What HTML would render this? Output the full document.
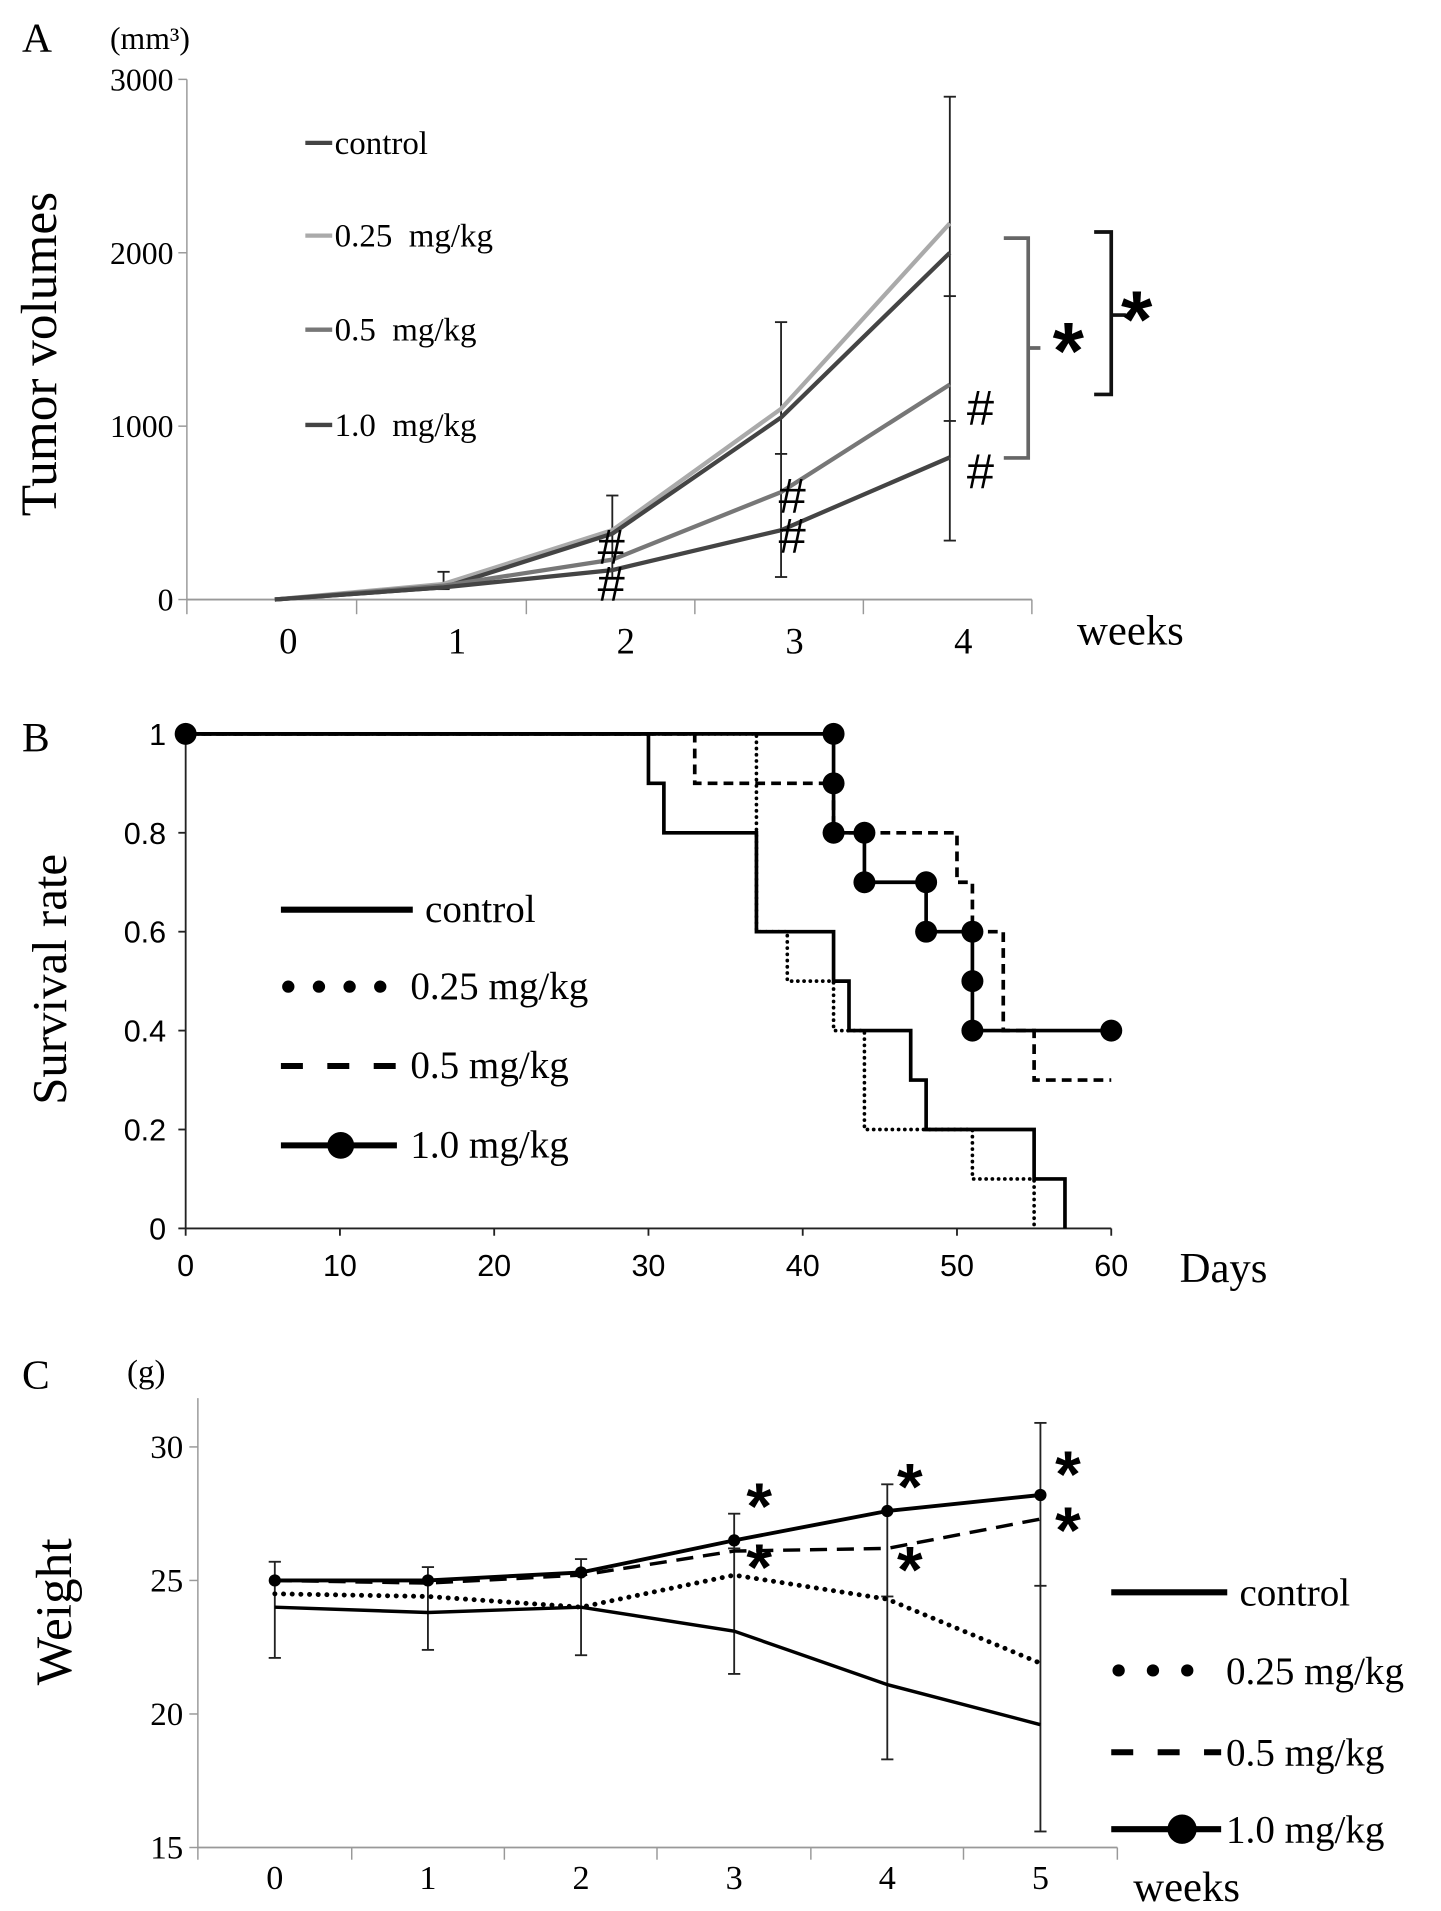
<!DOCTYPE html>
<html><head><meta charset="utf-8"><style>
html,body{margin:0;padding:0;background:#fff}
svg{display:block;font-family:"Liberation Serif",serif}
</style></head><body>
<svg id="fig" width="1441" height="1911" viewBox="0 0 1180 1565" xmlns="http://www.w3.org/2000/svg">
<g id="pa"></g>
<g id="pb"></g>
<g id="pc"></g>
</svg>
<script>
const NS="http://www.w3.org/2000/svg";
// Panel A data
const aWeeks=[0,1,2,3,4];
const aControl=[0,70,380,1050,2000];
const aLow=[0,90,400,1100,2170];
const aMid=[0,80,230,620,1240];
const aHigh=[0,70,170,400,820];
const aErrTop=[0,160,600,1600,2900];
const aErrBot=[0,60,120,130,340];
const aYTicks=[0,1000,2000,3000];
// Panel B data (step curves: [day, rate])
const bTicks=[0,10,20,30,40,50,60];
const bYTicks=[0,0.2,0.4,0.6,0.8,1];
const bControlDays=[0,30,31,37,42,43,47,48,55,57];
const bControlRates=[1,0.9,0.8,0.6,0.5,0.4,0.3,0.2,0.1,0];
const bLowDays=[0,37,39,42,44,51,55];
const bLowRates=[1,0.6,0.5,0.4,0.2,0.1,0];
const bMidDays=[0,33,42,50,51,53,55,60];
const bMidRates=[1,0.9,0.8,0.7,0.6,0.4,0.3,0.3];
const bHighDays=[0,42,44,48,51,60];
const bHighRates=[1,0.8,0.7,0.6,0.4,0.4];
const bDotDays=[0,42,42,42,44,44,48,48,51,51,51,60];
const bDotRates=[1,1,0.9,0.8,0.8,0.7,0.7,0.6,0.6,0.5,0.4,0.4];
// Panel C data
const cWeeks=[0,1,2,3,4,5];
const cControl=[24,23.8,24,23.1,21.1,19.6];
const cLow=[24.5,24.4,24,25.2,24.3,21.9];
const cMid=[25,24.9,25.2,26.1,26.2,27.3];
const cHigh=[25,25,25.3,26.5,27.6,28.2];
const cErrTop=[25.7,25.5,25.8,27.5,28.6,30.9];
const cErrBot=[22.1,22.4,22.2,21.5,18.3,15.6];
const cYTicks=[15,20,25,30];

function el(p,tag,attrs,text){const e=document.createElementNS(NS,tag);for(const k in attrs)e.setAttribute(k,attrs[k]);if(text!==undefined)e.textContent=text;p.appendChild(e);return e;}
function line(p,x1,y1,x2,y2,st,w,dash){return el(p,'line',{x1,y1,x2,y2,stroke:st,'stroke-width':w,'stroke-dasharray':dash||'none'});}

// ---------- Panel A ----------
const A=document.getElementById('pa');
const ax=i=>225+138.2*i, ay=v=>491-v*0.142;
let t=el(A,'text',{x:18,y:42,'font-size':34},'A');

t=el(A,'text',{x:90,y:40,'font-size':26},'(mm³)');

t=el(A,'text',{x:0,y:0,'font-size':42,transform:'translate(46,290) rotate(-90)','text-anchor':'middle'},'Tumor volumes');

line(A,153,65,153,491,'#999',1.2);line(A,153,491,845,491,'#999',1.5);
[153,292,431,569,707,845].forEach(x=>line(A,x,491,x,503,'#999',1.2));
aYTicks.forEach(v=>{line(A,146,ay(v),153,ay(v),'#999',1.2);
 const e=el(A,'text',{x:142,y:ay(v)+9,'font-size':26,'text-anchor':'end'},String(v));
 });
aWeeks.forEach((w,i)=>{const e=el(A,'text',{x:ax(i)+11,y:535,'font-size':30,'text-anchor':'middle'},String(w));
 });
t=el(A,'text',{x:882,y:528,'font-size':35},'weeks');

aWeeks.forEach((w,i)=>{if(i===0)return;const x=ax(i);
 line(A,x,ay(aErrTop[i]),x,ay(aErrBot[i]),'#222',1.5);
 line(A,x-5,ay(aErrTop[i]),x+5,ay(aErrTop[i]),'#222',1.5);
 line(A,x-5,ay(aErrBot[i]),x+5,ay(aErrBot[i]),'#222',1.5);});
line(A,ax(3)-5,ay(840),ax(3)+5,ay(840),'#222',1.5);line(A,ax(4)-5,ay(1750),ax(4)+5,ay(1750),'#222',1.5);line(A,ax(4)-5,ay(1030),ax(4)+5,ay(1030),'#222',1.5);
const aSeries=[[aLow,'#aaa','series-0-25'],[aControl,'#444','series-control'],[aMid,'#777','series-0-5'],[aHigh,'#444','series-1-0']];
aSeries.forEach(([d,c,n])=>{const pts=d.map((v,i)=>ax(i)+','+ay(v)).join(' ');
 const e=el(A,'polyline',{points:pts,fill:'none',stroke:c,'stroke-width':3.5});
 });
const aLeg=[['control','#444',117],['0.25  mg/kg','#aaa',193],['0.5  mg/kg','#777',270],['1.0  mg/kg','#444',348]];
aLeg.forEach(([l,c,y])=>{const g=el(A,'g',{});
 line(g,250,y,272,y,c,3.5);el(g,'text',{x:274,y:y+9,'font-size':27},l.replace(/  /,'\u00a0\u00a0'));});
[[ax(2)-12,462],[ax(2)-12,492],[ax(3)-2,420],[ax(3)-2,453],[ax(4)+14,348],[ax(4)+14,400]].forEach(([x,y])=>{
 const e=el(A,'text',{x,y,'font-size':40,'font-family':'Liberation Sans,sans-serif'},'#');
 });
el(A,'path',{d:'M822,195 H842 V285 H852 M842,285 V375 H822',fill:'none',stroke:'#666','stroke-width':3});
el(A,'path',{d:'M896,190 H910 V258 H922 M910,258 V323 H896',fill:'none',stroke:'#111','stroke-width':3});
t=el(A,'text',{x:862,y:310,'font-size':66,'font-family':'Liberation Sans,sans-serif','font-weight':'bold'},'*');
t=el(A,'text',{x:918,y:284,'font-size':66,'font-family':'Liberation Sans,sans-serif','font-weight':'bold'},'*');

// ---------- Panel B ----------
const B=document.getElementById('pb');
const bx=d=>152+d*(758/60), by=r=>1006-r*405;
t=el(B,'text',{x:18,y:615,'font-size':34},'B');
t=el(B,'text',{x:0,y:0,'font-size':40,transform:'translate(54,802) rotate(-90)','text-anchor':'middle'},'Survival  rate');

line(B,152,601,152,1006,'#222',1.5);line(B,152,1006,910,1006,'#222',1.5);
bYTicks.forEach(v=>{line(B,146,by(v),152,by(v),'#222',1.5);
 const e=el(B,'text',{x:136,y:by(v)+9,'font-size':25,'text-anchor':'end','font-family':'Liberation Sans,sans-serif'},String(v));
 });
bTicks.forEach(d=>{line(B,bx(d),1006,bx(d),1012,'#222',1.5);
 const e=el(B,'text',{x:bx(d),y:1045,'font-size':25,'text-anchor':'middle','font-family':'Liberation Sans,sans-serif'},String(d));
 });
t=el(B,'text',{x:966,y:1050,'font-size':35},'Days');
function steps(days,rates,end){let d='M'+bx(days[0])+','+by(rates[0]);for(let i=1;i<days.length;i++){d+=' H'+bx(days[i])+' V'+by(rates[i]);}if(end!==undefined)d+=' H'+bx(end);return d;}
const bS=[[bControlDays,bControlRates,undefined,'none','series-control'],[bLowDays,bLowRates,undefined,'0.1,5','series-0-25'],[bMidDays,bMidRates,undefined,'8,5','series-0-5'],[bHighDays,bHighRates,undefined,'none','series-1-0']];
bS.forEach(([dd,rr,end,dash,n])=>{const e=el(B,'path',{d:steps(dd,rr,end),fill:'none',stroke:'#000','stroke-width':3,'stroke-dasharray':dash,'stroke-linecap':dash==='0.1,5'?'round':'butt'});
 });
bDotDays.forEach((d,i)=>{const e=el(B,'circle',{cx:bx(d),cy:by(bDotRates[i]),r:9,fill:'#000'});
 });
const bLeg=[['control','none',745],['0.25 mg/kg','0.1,25',808],['0.5 mg/kg','18,20',873],['1.0 mg/kg','none',938]];
bLeg.forEach(([l,dash,y],i)=>{const g=el(B,'g',{});
 el(g,'line',{x1:i===1?236:230,y1:y,x2:i===0?338:325,y2:y,stroke:'#000','stroke-width':i===1?10:5,'stroke-dasharray':dash,'stroke-linecap':i===1?'round':'butt'});
 if(i===3)el(g,'circle',{cx:279,cy:y,r:11,fill:'#000'});
 el(g,'text',{x:i===0?348:336,y:y+10,'font-size':32},l);});

// ---------- Panel C ----------
const C=document.getElementById('pc');
const cx=i=>225+125.4*i, cy=v=>1513-(v-15)*21.87;
t=el(C,'text',{x:18,y:1137,'font-size':34},'C');
t=el(C,'text',{x:104,y:1132,'font-size':27},'(g)');
t=el(C,'text',{x:0,y:0,'font-size':42,transform:'translate(58,1320) rotate(-90)','text-anchor':'middle'},'Weight');

line(C,162,1145,162,1513,'#999',1.2);line(C,162,1513,915,1513,'#999',1.5);
[162,288,413,538,664,789,915].forEach(x=>line(C,x,1513,x,1523,'#999',1.2));
cYTicks.forEach(v=>{line(C,155,cy(v),162,cy(v),'#999',1.2);
 const e=el(C,'text',{x:150,y:cy(v)+9,'font-size':27,'text-anchor':'end'},String(v));
 });
cWeeks.forEach((w,i)=>{const e=el(C,'text',{x:cx(i),y:1547,'font-size':28,'text-anchor':'middle'},String(w));
 });
t=el(C,'text',{x:928,y:1557,'font-size':35},'weeks');
cWeeks.forEach((w,i)=>{const x=cx(i);
 line(C,x,cy(cErrTop[i]),x,cy(cErrBot[i]),'#222',1.5);
 line(C,x-5,cy(cErrTop[i]),x+5,cy(cErrTop[i]),'#222',1.5);
 line(C,x-5,cy(cErrBot[i]),x+5,cy(cErrBot[i]),'#222',1.5);});
line(C,cx(5)-5,cy(24.8),cx(5)+5,cy(24.8),'#222',1.5);line(C,cx(4)-5,cy(24.4),cx(4)+5,cy(24.4),'#222',1.5);line(C,cx(3)-5,cy(26.2),cx(3)+5,cy(26.2),'#222',1.5);
const cS=[[cControl,'none',2.8,'series-control'],[cLow,'0.1,7',4,'series-0-25'],[cMid,'14,8',2.8,'series-0-5'],[cHigh,'none',3.2,'series-1-0']];
cS.forEach(([d,dash,w,n])=>{const pts=d.map((v,i)=>cx(i)+','+cy(v)).join(' ');
 const e=el(C,'polyline',{points:pts,fill:'none',stroke:'#000','stroke-width':w,'stroke-dasharray':dash,'stroke-linecap':dash==='0.1,7'?'round':'butt'});
 });
cHigh.forEach((v,i)=>{const e=el(C,'circle',{cx:cx(i),cy:cy(v),r:5,fill:'#000'});});
[[cx(3)+10,1252],[cx(3)+10,1302],[cx(4)+8,1236],[cx(4)+8,1304],[cx(5)+12,1226],[cx(5)+12,1272]].forEach(([x,y])=>{
 const e=el(C,'text',{x,y,'font-size':54,'font-family':'Liberation Sans,sans-serif','font-weight':'bold'},'*');
 });
const cLeg=[['control','none',1304],['0.25 mg/kg','0.1,28',1368],['0.5 mg/kg','18,20',1435],['1.0 mg/kg','none',1498]];
cLeg.forEach(([l,dash,y],i)=>{const g=el(C,'g',{});
 el(g,'line',{x1:i===1?916:910,y1:y,x2:i===0?1005:i===1?1000:1000,y2:y,stroke:'#000','stroke-width':i===1?10:5,'stroke-dasharray':dash,'stroke-linecap':i===1?'round':'butt'});
 if(i===3)el(g,'circle',{cx:968,cy:y,r:12,fill:'#000'});
 el(g,'text',{x:i===0?1015:1004,y:y+11,'font-size':32},l);});
</script>
</body></html>
